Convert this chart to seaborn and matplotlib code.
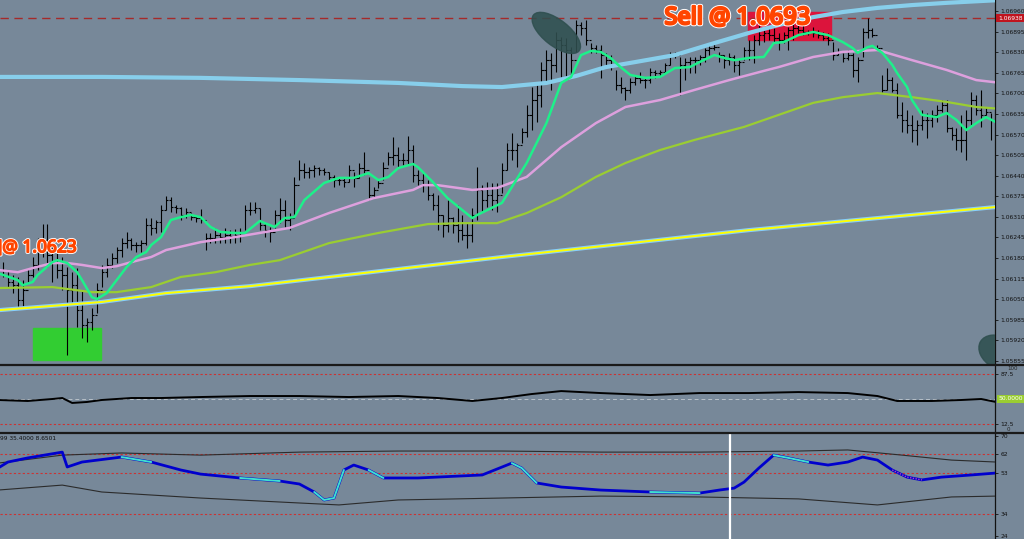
"""
EURUSD-style chart: price bars with moving averages, oscillator panels
"""

import numpy as np
import matplotlib
matplotlib.use("Agg")
import matplotlib.pyplot as plt
import matplotlib.patheffects as pe
from matplotlib import patches, transforms
from matplotlib.lines import Line2D
import seaborn as sns


# Price bars, in points (1 point = 0.00001)

high_pts = [
    106167, 106142, 106126, 106120, 106110, 106148, 106183, 106243, 106287, 106287,
    106243, 106195, 106183, 106151, 106135, 106148, 106079, 105990, 106022, 106101,
    106158, 106180, 106195, 106214, 106243, 106262, 106243, 106230, 106237, 106306,
    106306, 106300, 106347, 106376, 106372, 106347, 106341, 106338, 106322, 106316,
    106335, 106259, 106259, 106275, 106262, 106275, 106268, 106271, 106275, 106347,
    106357, 106357, 106338, 106290, 106278, 106331, 106369, 106363, 106322, 106436,
    106489, 106480, 106467, 106474, 106467, 106464, 106451, 106442, 106436, 106433,
    106474, 106451, 106480, 106515, 106436, 106404, 106426, 106483, 106515, 106562,
    106530, 106512, 106565, 106537, 106458, 106448, 106426, 106385, 106379, 106316,
    106363, 106309, 106347, 106316, 106290, 106338, 106467, 106410, 106420, 106417,
    106417, 106480, 106543, 106575, 106543, 106591, 106663, 106720, 106726, 106799,
    106837, 106828, 106894, 106878, 106875, 106846, 106932, 106925, 106932, 106859,
    106853, 106853, 106828, 106821, 106774, 106752, 106720, 106749, 106758, 106767,
    106749, 106780, 106774, 106774, 106796, 106831, 106831, 106815, 106812, 106815,
    106815, 106821, 106843, 106853, 106859, 106831, 106821, 106828, 106821, 106805,
    106846, 106869, 106884, 106916, 106910, 106910, 106907, 106891, 106894, 106910,
    106922, 106916, 106922, 106900, 106910, 106900, 106894, 106891, 106862, 106843,
    106828, 106837, 106828, 106815, 106907, 106938, 106907, 106853, 106758, 106780,
    106752, 106733, 106673, 106647, 106632, 106616, 106647, 106638, 106647, 106663,
    106679, 106679, 106594, 106591, 106632, 106647, 106704, 106695, 106711, 106657,
    106638, 106632,
]
low_pts = [
    106120, 106088, 106069, 106025, 106025, 106101, 106120, 106142, 106183, 106151,
    106104, 106117, 106079, 105873, 106038, 105962, 105927, 105914, 105952, 106006,
    106088, 106120, 106148, 106164, 106183, 106211, 106205, 106199, 106199, 106221,
    106252, 106259, 106262, 106331, 106325, 106322, 106300, 106306, 106300, 106293,
    106290, 106205, 106227, 106227, 106227, 106227, 106227, 106227, 106230, 106268,
    106316, 106322, 106268, 106246, 106230, 106275, 106290, 106278, 106268, 106306,
    106426, 106433, 106433, 106436, 106442, 106442, 106426, 106404, 106410, 106404,
    106420, 106404, 106433, 106442, 106363, 106369, 106401, 106426, 106474, 106474,
    106467, 106474, 106474, 106420, 106410, 106388, 106363, 106331, 106268, 106246,
    106262, 106259, 106230, 106237, 106211, 106230, 106300, 106325, 106341, 106331,
    106325, 106385, 106458, 106489, 106467, 106543, 106562, 106584, 106609, 106657,
    106736, 106711, 106767, 106752, 106752, 106752, 106831, 106884, 106853, 106828,
    106828, 106749, 106780, 106774, 106711, 106701, 106679, 106701, 106726, 106733,
    106717, 106733, 106749, 106752, 106767, 106790, 106812, 106695, 106742, 106764,
    106764, 106790, 106799, 106821, 106837, 106799, 106780, 106790, 106767, 106758,
    106805, 106805, 106796, 106853, 106862, 106869, 106859, 106837, 106859, 106837,
    106869, 106891, 106884, 106884, 106878, 106875, 106869, 106853, 106805, 106821,
    106799, 106805, 106752, 106736, 106815, 106875, 106878, 106837, 106704, 106711,
    106704, 106622, 106578, 106575, 106546, 106537, 106584, 106559, 106594, 106609,
    106641, 106578, 106553, 106521, 106515, 106489, 106600, 106632, 106594, 106632,
    106553, 106499,
]
close_pts = [
    106142, 106104, 106094, 106047, 106079, 106126, 106158, 106205, 106237, 106189,
    106167, 106142, 106126, 106079, 106094, 106015, 105968, 105977, 106000, 106079,
    106135, 106158, 106180, 106205, 106227, 106237, 106221, 106221, 106227, 106284,
    106275, 106293, 106331, 106363, 106341, 106338, 106316, 106325, 106309, 106306,
    106300, 106243, 106243, 106252, 106246, 106252, 106249, 106252, 106262, 106331,
    106331, 106338, 106284, 106268, 106262, 106316, 106331, 106300, 106306, 106410,
    106458, 106451, 106458, 106464, 106458, 106451, 106436, 106426, 106426, 106420,
    106458, 106433, 106464, 106458, 106379, 106395, 106417, 106464, 106499, 106505,
    106489, 106489, 106521, 106442, 106426, 106410, 106379, 106347, 106316, 106284,
    106306, 106284, 106268, 106252, 106252, 106316, 106395, 106363, 106379, 106363,
    106379, 106458, 106521, 106521, 106537, 106578, 106632, 106679, 106695, 106774,
    106805, 106790, 106869, 106853, 106837, 106805, 106916, 106907, 106869, 106843,
    106837, 106821, 106805, 106790, 106726, 106717, 106711, 106736, 106749, 106742,
    106742, 106767, 106764, 106767, 106790, 106821, 106821, 106790, 106799, 106805,
    106805, 106815, 106837, 106843, 106846, 106821, 106805, 106815, 106790, 106799,
    106837, 106837, 106869, 106884, 106891, 106884, 106875, 106869, 106884, 106900,
    106907, 106900, 106894, 106894, 106891, 106884, 106875, 106869, 106821, 106831,
    106812, 106821, 106774, 106805, 106894, 106900, 106884, 106843, 106711, 106742,
    106711, 106632, 106616, 106600, 106584, 106600, 106616, 106616, 106632, 106647,
    106663, 106591, 106568, 106553, 106553, 106616, 106679, 106647, 106632, 106641,
    106616, 106521,
]

# Moving averages: bar index and value in points
fast_idx = [-1, 3, 4, 6, 7, 10, 11, 13, 15, 16, 18, 19, 21, 23, 25, 27, 29, 30, 32, 34,
            36, 38, 40, 42, 44, 47, 49, 52, 53, 55, 57, 59, 61, 65, 68, 71, 74, 76, 78, 80,
            83, 84, 87, 90, 93, 95, 96, 101, 103, 106, 108, 110, 113, 115, 117, 119, 121, 123, 125, 127,
            130, 133, 136, 139, 141, 144, 146, 148, 151, 154, 156, 158, 161, 164, 167, 170, 172, 173, 175, 176,
            178, 180, 181, 183, 184, 186, 189, 191, 193, 195, 197, 199, 201]
fast_pts = [106132, 106110, 106094, 106104, 106126, 106167, 106173, 106164, 106135, 106110,
            106056, 106050, 106069, 106110, 106151, 106183, 106199, 106221, 106246, 106300,
            106309, 106316, 106309, 106278, 106262, 106259, 106259, 106297, 106290, 106278,
            106306, 106309, 106363, 106417, 106433, 106433, 106448, 106426, 106436, 106464,
            106477, 106467, 106420, 106369, 106331, 106306, 106316, 106354, 106404, 106480,
            106543, 106606, 106733, 106752, 106821, 106834, 106831, 106812, 106783, 106758,
            106749, 106752, 106780, 106783, 106799, 106821, 106812, 106805, 106812, 106815,
            106859, 106862, 106884, 106894, 106884, 106862, 106843, 106828, 106846, 106850,
            106828, 106790, 106764, 106720, 106679, 106632, 106625, 106638, 106616, 106584,
            106606, 106625, 106609]

mid_idx = [-1, 3, 6, 10, 13, 16, 20, 23, 26, 30, 33, 40, 47, 58, 66, 75, 83, 85, 88, 95,
           100, 106, 113, 120, 126, 133, 140, 147, 154, 157, 164, 170, 177, 184, 191, 197, 202]
mid_pts = [106142, 106135, 106148, 106164, 106164, 106158, 106148, 106154, 106167, 106183,
           106205, 106230, 106246, 106275, 106322, 106369, 106395, 106410, 106410, 106395,
           106401, 106436, 106530, 106606, 106657, 106679, 106711, 106742, 106771, 106783,
           106815, 106831, 106837, 106805, 106774, 106742, 106733]

slow_idx = [-1, 10, 18, 23, 30, 36, 43, 50, 56, 66, 76, 86, 93, 100, 106, 113, 120, 126, 133, 140,
            150, 157, 164, 170, 177, 184, 191, 197, 202]
slow_pts = [106085, 106088, 106072, 106072, 106088, 106120, 106135, 106158, 106173, 106227,
            106259, 106287, 106290, 106290, 106322, 106372, 106436, 106480, 106521, 106553,
            106594, 106632, 106670, 106688, 106701, 106688, 106673, 106657, 106651]

long_idx = [-1, 20, 33, 50, 101, 151, 201]
long_pts = [106015, 106041, 106069, 106091, 106183, 106268, 106341]

sky_idx = [-1, 20, 40, 60, 80, 93, 101, 110, 116, 122, 128, 136, 144, 151, 157, 164, 170, 177,
           184, 191, 202]
sky_pts = [106752, 106752, 106749, 106742, 106733, 106723, 106720, 106733, 106755, 106783,
           106799, 106821, 106859, 106891, 106916, 106941, 106957, 106970, 106979, 106986, 106995]

price_ticks = [1.06960, 1.06895, 1.06830, 1.06765, 1.06700, 1.06635, 1.06570, 1.06505, 1.06440,
               1.06375, 1.06310, 1.06245, 1.06180, 1.06115, 1.06050, 1.05985, 1.05920, 1.05855]
sell_level = 1.06938

# zones: (first bar, last bar, low price, high price)
buy_zone = (6.1, 19.8, 1.05857, 1.05959)
sell_zone = (150.8, 167.6, 1.06869, 1.06957)

# Middle oscillator
osc_idx = [-1, 5, 10, 12, 14, 17, 20, 26, 32, 40, 50, 60, 70, 80, 88, 95, 101, 107, 113, 121,
           131, 141, 151, 161, 171, 177, 181, 188, 194, 198, 201]
osc_val = [48.5, 47, 50, 51.5, 44, 45.5, 48.5, 51.5, 51.5, 53, 54.5, 54.5, 53, 54.5, 51.5, 47,
           51.5, 57.5, 62, 59, 56, 59, 59, 60.5, 59, 54.5, 47, 47, 48.5, 50, 45.5]

# Bottom panel: main line + envelope
rsi_idx = [-1, 1, 5, 12, 13, 16, 24, 30, 36, 40, 48, 56, 60, 63, 65, 67, 69, 71, 74, 77,
           84, 97, 103, 105, 108, 113, 121, 131, 141, 145, 148, 150, 153, 156, 159, 163, 167, 171, 174, 177,
           180, 183, 186, 190, 196, 201]
rsi_val = [55.3, 58.1, 60, 62.7, 55.8, 58.1, 60.4, 58.1, 54.4, 52.5, 50.7, 49.3, 47.9, 44.2, 40.5,
           41.4, 54.4, 56.7, 54.4, 50.7, 50.7, 52.1, 57.6, 55.3, 48.4, 46.5, 45.1, 44.2, 43.7, 45.1,
           46, 48.8, 55.3, 61.3, 60, 58.1, 56.7, 58.1, 60.4, 59, 54.4, 51.1, 49.8, 51.1, 52.1, 53]
# runs of rsi points drawn highlighted
rsi_hi_runs = [(6, 7), (10, 11), (13, 16), (18, 19), (22, 24), (27, 28), (33, 35)]
rsi_dot_run = (40, 42)

band_up_idx = [-1, 12, 24, 40, 60, 80, 101, 121, 141, 161, 171, 182, 192, 201]
band_up_val = [57.6, 61.3, 62.3, 61.3, 62.7, 63.2, 63.2, 62.7, 62.7, 63.2, 63.7, 61.3, 59, 58.1]
band_lo_idx = [-1, 12, 20, 40, 60, 68, 80, 101, 121, 141, 161, 177, 192, 201]
band_lo_val = [45.1, 47.4, 44.2, 41.4, 39.1, 38.2, 40.5, 41.4, 42.3, 41.9, 41, 38.2, 41.9, 42.3]
marker_bar = 147.2


BG = "#778899"
sns.set_theme(style="dark", rc={"axes.facecolor": BG, "figure.facecolor": BG})
plt.rcParams["font.family"] = ["DejaVu Sans"]

W, H = 1024, 539
XLIM = (-0.607, 200.8)
TICK_FS = 4.3
SIGNAL = "#FF4500"


def panel(top, bottom):
    return fig.add_axes([0, 1 - bottom / H, 995 / W, (bottom - top) / H])


def line(ax, xs, ys, color, lw, z, **kw):
    sns.lineplot(x=xs, y=ys, ax=ax, color=color, lw=lw, zorder=z,
                 estimator=None, sort=False, legend=False, **kw)


def rim(outer, inner):
    # thick orange glyphs with a thin white rim
    return [pe.withStroke(linewidth=outer, foreground="white"),
            pe.withStroke(linewidth=inner, foreground=SIGNAL)]


fig = plt.figure(figsize=(W / 100, H / 100), dpi=100)
ax_p = panel(0, 364)
ax_m = panel(366, 432)
ax_r = panel(434, 539)

# --- price panel ---
bars = np.arange(len(high_pts))
high = np.array(high_pts) / 1e5
low = np.array(low_pts) / 1e5
close = np.array(close_pts) / 1e5
opens = np.r_[close[0], close[:-1]]

ax_p.add_patch(patches.Rectangle((buy_zone[0], buy_zone[2]), buy_zone[1] - buy_zone[0],
                                 buy_zone[3] - buy_zone[2], color="#32CD32", zorder=1))
ax_p.add_patch(patches.Rectangle((sell_zone[0], sell_zone[2]), sell_zone[1] - sell_zone[0],
                                 sell_zone[3] - sell_zone[2], color="#DC143C", zorder=1))
ax_p.axhline(sell_level, color="#A52A2A", lw=1, dashes=(6, 4), zorder=2)

ax_p.vlines(bars, low, high, color="black", lw=0.8, zorder=3)
ax_p.hlines(opens, bars - 0.45, bars, color="black", lw=0.8, zorder=3)
ax_p.hlines(close, bars, bars + 0.45, color="black", lw=0.8, zorder=3)

line(ax_p, sky_idx, np.array(sky_pts) / 1e5, "#87CEEB", 3.0, 4)
line(ax_p, long_idx, np.array(long_pts) / 1e5, "#87CEFA", 3.0, 4)
line(ax_p, long_idx, np.array(long_pts) / 1e5, "#FFFF00", 1.4, 4)
line(ax_p, slow_idx, np.array(slow_pts) / 1e5, "#9ACD32", 1.6, 4)
line(ax_p, mid_idx, np.array(mid_pts) / 1e5, "#DDA0DD", 1.8, 4)
line(ax_p, fast_idx, np.array(fast_pts) / 1e5, "#1EF08A", 1.8, 5)

# dark ellipses marking swing points
for cx, cy, w, h, ang in [(112.0, 1.06891, 0.58, 0.26, -38), (201.8, 1.05880, 0.45, 0.32, -30)]:
    ax_p.add_patch(patches.Ellipse((0, 0), w, h, angle=ang, color="#2F4F4F", alpha=0.88, zorder=6,
                                   transform=fig.dpi_scale_trans + transforms.ScaledTranslation(
                                       cx, cy, ax_p.transData)))

narrow = ["Noto Sans", "DejaVu Sans"]
ax_p.text(133.9, sell_level, "Sell @ 1.0693", family=narrow, fontstretch="condensed",
          weight="bold", fontsize=17, color=SIGNAL, va="center", ha="left", zorder=7,
          path_effects=rim(3.2, 1.8))
ax_p.text(15.0, 1.06214, "n]@ 1.0623", family=narrow, fontstretch="condensed",
          weight="bold", fontsize=12.5, color=SIGNAL, va="center", ha="right", zorder=7,
          path_effects=rim(2.4, 1.1))

ax_p.set_ylim(1.05845, 1.06995)
ax_p.set_yticks(price_ticks)
ax_p.set_yticklabels([f"{v:.5f}" for v in price_ticks])
ax_p.text(1.003, sell_level, f"{sell_level:.5f}", transform=ax_p.get_yaxis_transform(),
          fontsize=TICK_FS, color="white", va="center", ha="left", zorder=8, clip_on=False,
          bbox=dict(boxstyle="square,pad=0.25", fc="#C0141E", ec="none"))

# --- middle oscillator ---
ax_m.axhline(87.5, color="#CC3333", lw=0.8, ls=(0, (2, 2)))
ax_m.axhline(12.5, color="#CC3333", lw=0.8, ls=(0, (2, 2)))
ax_m.axhline(50, color="#B8C0C8", lw=0.7, ls=(0, (4, 3)))
line(ax_m, osc_idx, osc_val, "black", 1.4, 4)
ax_m.set_ylim(0, 100)
ax_m.set_yticks([87.5, 12.5])
ax_m.set_yticklabels(["87.5", "12.5"])
ax_m.text(1.012, 0.995, "100", transform=ax_m.transAxes, fontsize=4, va="top", clip_on=False)
ax_m.text(1.012, 0.005, "0", transform=ax_m.transAxes, fontsize=4, va="bottom", clip_on=False)
ax_m.text(1.004, 50, "50.0000", transform=ax_m.get_yaxis_transform(), fontsize=TICK_FS,
          color="white", va="center", ha="left", clip_on=False,
          bbox=dict(boxstyle="square,pad=0.3", fc="#9ACD32", ec="none"))

# --- bottom oscillator ---
for lvl in [62, 53, 34]:
    ax_r.axhline(lvl, color="#CC3333", lw=0.8, ls=(0, (2, 2)))
line(ax_r, band_up_idx, band_up_val, "#2b2b2b", 0.8, 3)
line(ax_r, band_lo_idx, band_lo_val, "#2b2b2b", 0.8, 3)
line(ax_r, rsi_idx, rsi_val, "#0000CD", 2.0, 4)
for a, b in rsi_hi_runs:
    line(ax_r, rsi_idx[a:b + 1], rsi_val[a:b + 1], "#40E0D0", 1.4, 5)
a, b = rsi_dot_run
ax_r.plot(rsi_idx[a:b + 1], rsi_val[a:b + 1], color="#B040C0", lw=1.0, ls=(0, (1, 1)), zorder=6)
ax_r.axvline(marker_bar, color="white", lw=1.6, zorder=6)
ax_r.set_ylim(22.4, 71.1)
ax_r.set_yticks([70, 62, 53, 34, 24])
ax_r.set_yticklabels(["70", "62", "53", "34", "24"])
ax_r.text(0.0, 0.985, "99 35.4000 8.6501", transform=ax_r.transAxes, fontsize=4.2,
          color="#111111", va="top", ha="left")

for ax in (ax_p, ax_m, ax_r):
    ax.set_xlim(*XLIM)
    ax.set_xticks([])
    ax.set_xlabel("")
    ax.set_ylabel("")
    ax.yaxis.tick_right()
    ax.tick_params(axis="y", right=True, left=False, labelsize=TICK_FS, length=2.5, width=0.6,
                   colors="#111111", pad=1.2)
    for side in ("left", "top", "bottom"):
        ax.spines[side].set_visible(False)
    ax.spines["right"].set_color("#111111")
    ax.spines["right"].set_linewidth(0.9)

# panel separators
for y in (365, 433):
    fig.add_artist(Line2D([0, 1], [1 - y / H, 1 - y / H], transform=fig.transFigure,
                          color="#1a1a1a", lw=1.6))

fig.savefig("out.png", dpi=100, facecolor=BG)
plt.close(fig)
